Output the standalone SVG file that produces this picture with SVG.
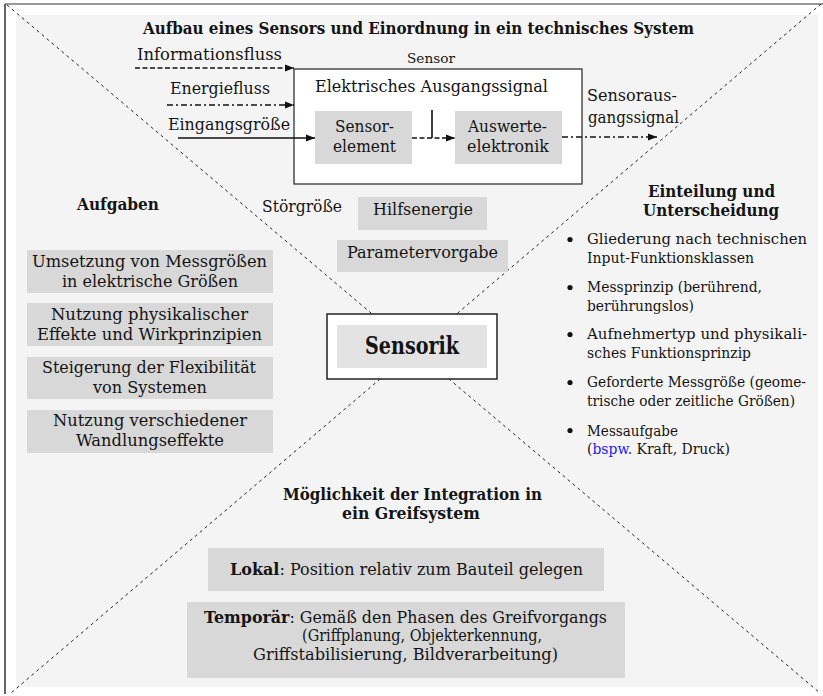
<svg xmlns="http://www.w3.org/2000/svg" width="823" height="696" viewBox="0 0 823 696">
  <style>
    .t { font-family: "DejaVu Serif", "Liberation Serif", serif; font-size: 16px; fill: #141414; }
    .b { font-weight: bold; }
    .s { font-size: 14.5px; }
    .box { fill: #d8d8d8; }
    .div { stroke: #222; stroke-width: 1; stroke-dasharray: 3 3.5; fill: none; }
    .ln { stroke: #111; stroke-width: 1.6; fill: none; }
    .dash { stroke-dasharray: 5 2.5; }
    .dashdot { stroke-dasharray: 6 3 2 3; }
  </style>
  <defs>
    <marker id="ah" viewBox="0 0 10 8" refX="10" refY="4" markerWidth="9" markerHeight="7.5" markerUnits="userSpaceOnUse" orient="auto">
      <path d="M0,0 L10,4 L0,8 z" fill="#111"/>
    </marker>
  </defs>

  <!-- frame and background -->
  <rect x="0" y="0" width="823" height="696" fill="#ffffff"/>
  <rect x="16" y="15" width="802" height="672" fill="#f4f4f4"/>
  <line x1="5" y1="4" x2="823" y2="4" stroke="#333" stroke-width="1.2"/>
  <line x1="5" y1="4" x2="5" y2="694" stroke="#666" stroke-width="2"/>

  <!-- diagonal dividers -->
  <g id="dividers">
    <line class="div" x1="7" y1="5" x2="820" y2="693"/>
    <line class="div" x1="821" y1="4" x2="11" y2="693"/>
  </g>

  <!-- top quadrant: sensor structure -->
  <g id="title-top">
    <text class="t b" x="143" y="34" textLength="551" lengthAdjust="spacingAndGlyphs">Aufbau eines Sensors und Einordnung in ein technisches System</text>
  </g>
  <g id="legend">
    <text class="t" x="137" y="60" textLength="145" lengthAdjust="spacingAndGlyphs">Informationsfluss</text>
    <text class="t" x="170" y="94" textLength="100" lengthAdjust="spacingAndGlyphs">Energiefluss</text>
    <text class="t" x="168" y="130" textLength="122" lengthAdjust="spacingAndGlyphs">Eingangsgröße</text>
  </g>
  <g id="sensor">
    <rect x="294" y="69" width="288" height="115" fill="#ffffff" stroke="#333" stroke-width="1.3"/>
    <text class="t" x="407" y="63" textLength="48" lengthAdjust="spacingAndGlyphs" style="font-size:13px">Sensor</text>
    <text class="t" x="315" y="92" textLength="233" lengthAdjust="spacingAndGlyphs" style="font-size:17px">Elektrisches Ausgangssignal</text>
  </g>
  <g id="sensorelement">
    <rect class="box" x="315" y="111" width="97" height="53"/>
    <text class="t" x="335" y="132" textLength="59" lengthAdjust="spacingAndGlyphs">Sensor-</text>
    <text class="t" x="333" y="152" textLength="63" lengthAdjust="spacingAndGlyphs">element</text>
  </g>
  <g id="auswerteelektronik">
    <rect class="box" x="455" y="111" width="107" height="53"/>
    <text class="t" x="468" y="132" textLength="79" lengthAdjust="spacingAndGlyphs">Auswerte-</text>
    <text class="t" x="467" y="152" textLength="82" lengthAdjust="spacingAndGlyphs">elektronik</text>
  </g>
  <g id="ausgangssignal">
    <text class="t" x="587" y="101" textLength="90" lengthAdjust="spacingAndGlyphs">Sensoraus-</text>
    <text class="t" x="588" y="123" textLength="91" lengthAdjust="spacingAndGlyphs">gangssignal</text>
  </g>
  <g id="stoergroesse">
    <text class="t" x="262" y="212" textLength="80" lengthAdjust="spacingAndGlyphs">Störgröße</text>
  </g>
  <g id="hilfsenergie">
    <rect class="box" x="358" y="197" width="129" height="33"/>
    <text class="t" x="373" y="215" textLength="100" lengthAdjust="spacingAndGlyphs">Hilfsenergie</text>
  </g>
  <g id="parametervorgabe">
    <rect class="box" x="337" y="240" width="171" height="32"/>
    <text class="t" x="347" y="258" textLength="151" lengthAdjust="spacingAndGlyphs">Parametervorgabe</text>
  </g>

  <!-- connectors -->
  <g id="connectors">
    <line class="ln dash" x1="135" y1="68" x2="294" y2="68" marker-end="url(#ah)"/>
    <line class="ln dashdot" x1="167" y1="105" x2="294" y2="105" marker-end="url(#ah)"/>
    <line class="ln" x1="178" y1="138" x2="315" y2="138" marker-end="url(#ah)"/>
    <line class="ln dash" x1="412" y1="138" x2="455" y2="138" marker-end="url(#ah)"/>
    <line class="ln" x1="432" y1="110" x2="432" y2="138"/>
    <line class="ln dashdot" x1="562" y1="137" x2="657" y2="137" marker-end="url(#ah)"/>
  </g>

  <!-- centre -->
  <g id="sensorik">
    <rect x="327" y="314" width="170" height="65" fill="#ffffff" stroke="#222" stroke-width="1.5"/>
    <rect x="337" y="325" width="150" height="43" fill="#e3e3e3"/>
    <text class="t b" x="365" y="354" textLength="94" lengthAdjust="spacingAndGlyphs" style="font-size:25px">Sensorik</text>
  </g>

  <!-- left quadrant: tasks -->
  <g id="aufgaben">
    <text class="t b" x="77" y="210" textLength="82" lengthAdjust="spacingAndGlyphs">Aufgaben</text>
  </g>
  <g id="aufgabe-1">
    <rect class="box" x="27" y="250" width="246" height="43"/>
    <text class="t" x="32" y="267" textLength="235" lengthAdjust="spacingAndGlyphs">Umsetzung von Messgrößen</text>
    <text class="t" x="62" y="287" textLength="176" lengthAdjust="spacingAndGlyphs">in elektrische Größen</text>
  </g>
  <g id="aufgabe-2">
    <rect class="box" x="27" y="303" width="246" height="43"/>
    <text class="t" x="51" y="320" textLength="197" lengthAdjust="spacingAndGlyphs">Nutzung physikalischer</text>
    <text class="t" x="37" y="340" textLength="225" lengthAdjust="spacingAndGlyphs">Effekte und Wirkprinzipien</text>
  </g>
  <g id="aufgabe-3">
    <rect class="box" x="27" y="357" width="246" height="42"/>
    <text class="t" x="42" y="373" textLength="214" lengthAdjust="spacingAndGlyphs">Steigerung der Flexibilität</text>
    <text class="t" x="93" y="393" textLength="114" lengthAdjust="spacingAndGlyphs">von Systemen</text>
  </g>
  <g id="aufgabe-4">
    <rect class="box" x="27" y="410" width="246" height="43"/>
    <text class="t" x="53" y="426" textLength="194" lengthAdjust="spacingAndGlyphs">Nutzung verschiedener</text>
    <text class="t" x="76" y="446" textLength="148" lengthAdjust="spacingAndGlyphs">Wandlungseffekte</text>
  </g>

  <!-- right quadrant: classification -->
  <g id="einteilung">
    <text class="t b" x="648" y="197" textLength="127" lengthAdjust="spacingAndGlyphs">Einteilung und</text>
    <text class="t b" x="643" y="216" textLength="136" lengthAdjust="spacingAndGlyphs">Unterscheidung</text>
    <g fill="#111">
      <circle cx="570" cy="239.5" r="2.6"/>
      <circle cx="570" cy="287.5" r="2.6"/>
      <circle cx="570" cy="334.5" r="2.6"/>
      <circle cx="570" cy="382.5" r="2.6"/>
      <circle cx="570" cy="430.5" r="2.6"/>
    </g>
    <text class="t s" x="587" y="244" textLength="220" lengthAdjust="spacingAndGlyphs">Gliederung nach technischen</text>
    <text class="t s" x="587" y="263" textLength="167" lengthAdjust="spacingAndGlyphs">Input-Funktionsklassen</text>
    <text class="t s" x="587" y="292" textLength="175" lengthAdjust="spacingAndGlyphs">Messprinzip (berührend,</text>
    <text class="t s" x="587" y="311" textLength="107" lengthAdjust="spacingAndGlyphs">berührungslos)</text>
    <text class="t s" x="587" y="339" textLength="220" lengthAdjust="spacingAndGlyphs">Aufnehmertyp und physikali-</text>
    <text class="t s" x="587" y="358" textLength="164" lengthAdjust="spacingAndGlyphs">sches Funktionsprinzip</text>
    <text class="t s" x="587" y="387" textLength="219" lengthAdjust="spacingAndGlyphs">Geforderte Messgröße (geome-</text>
    <text class="t s" x="587" y="406" textLength="208" lengthAdjust="spacingAndGlyphs">trische oder zeitliche Größen)</text>
    <text class="t s" x="587" y="436" textLength="91" lengthAdjust="spacingAndGlyphs">Messaufgabe</text>
    <text class="t s" x="587" y="454" textLength="143" lengthAdjust="spacingAndGlyphs">(<tspan fill="#1a1aee">bspw.</tspan> Kraft, Druck)</text>
  </g>

  <!-- bottom quadrant: integration -->
  <g id="integration">
    <text class="t b" x="283" y="500" textLength="259" lengthAdjust="spacingAndGlyphs">Möglichkeit der Integration in</text>
    <text class="t b" x="342" y="519" textLength="138" lengthAdjust="spacingAndGlyphs">ein Greifsystem</text>
  </g>
  <g id="lokal">
    <rect class="box" x="208" y="548" width="396" height="43"/>
    <text class="t" x="230" y="575" textLength="353" lengthAdjust="spacingAndGlyphs"><tspan class="b">Lokal</tspan>: Position relativ zum Bauteil gelegen</text>
  </g>
  <g id="temporaer">
    <rect class="box" x="187" y="602" width="438" height="76"/>
    <text class="t" x="204" y="623" textLength="403" lengthAdjust="spacingAndGlyphs"><tspan class="b">Temporär</tspan>: Gemäß den Phasen des Greifvorgangs</text>
    <text class="t" x="302" y="641" textLength="240" lengthAdjust="spacingAndGlyphs">(Griffplanung, Objekterkennung,</text>
    <text class="t" x="253" y="660" textLength="305" lengthAdjust="spacingAndGlyphs">Griffstabilisierung, Bildverarbeitung)</text>
  </g>
</svg>
